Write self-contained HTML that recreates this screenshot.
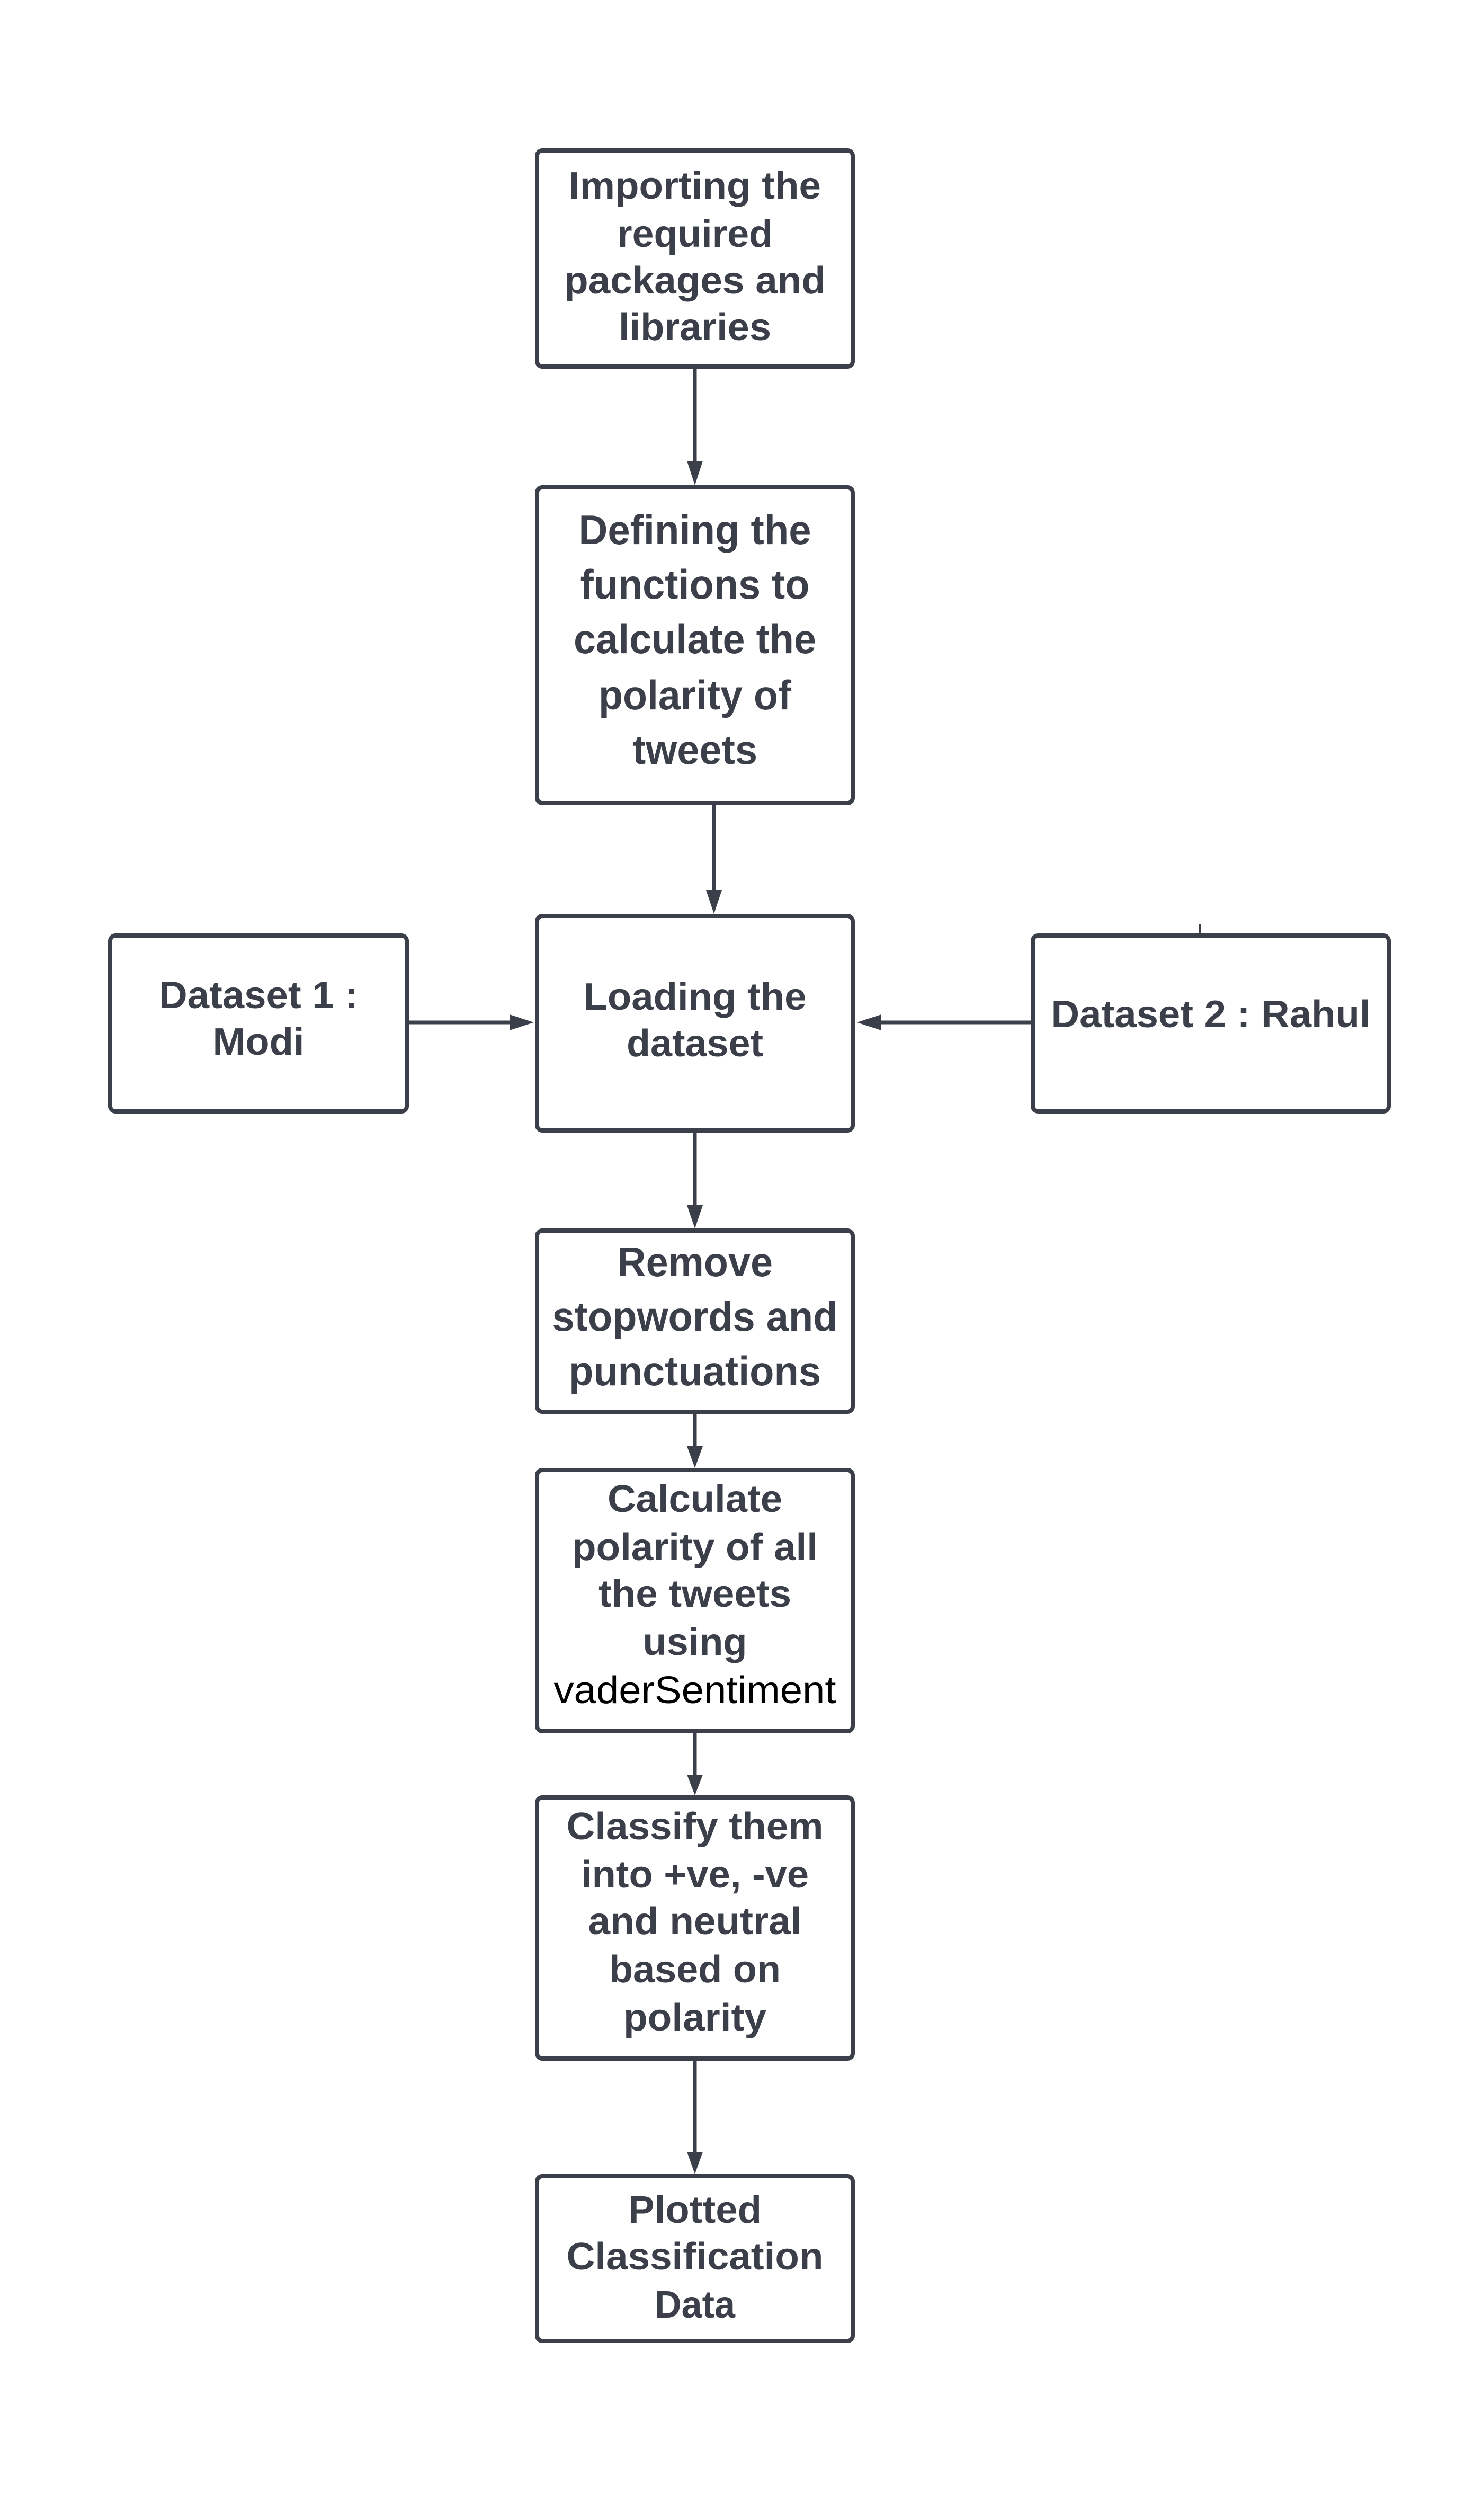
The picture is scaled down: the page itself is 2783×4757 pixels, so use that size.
<!DOCTYPE html>
<html><head><meta charset="utf-8"><style>
html,body{margin:0;padding:0;background:#fff}
svg{display:block}
text{font-family:"Liberation Sans",Arial,sans-serif;font-weight:bold;fill:#3a3f4a;text-anchor:middle;dominant-baseline:central}
</style></head><body>
<svg width="2783" height="4757" viewBox="0 0 2783 4757" xmlns="http://www.w3.org/2000/svg">
<g fill="#fff" stroke="#3a3f4a" stroke-width="8">
<rect x="1014" y="284" width="596" height="408" rx="10"/>
<rect x="1014" y="920" width="596" height="596" rx="10"/>
<rect x="1014" y="1729" width="596" height="405" rx="10"/>
<rect x="208" y="1766" width="560" height="332" rx="10"/>
<rect x="1950" y="1766" width="672" height="332" rx="10"/>
<rect x="1014" y="2323" width="596" height="342" rx="10"/>
<rect x="1014" y="2775" width="596" height="493" rx="10"/>
<rect x="1014" y="3393" width="596" height="493" rx="10"/>
<rect x="1014" y="4108" width="596" height="311" rx="10"/>
</g>
<g stroke="#3a3f4a" stroke-width="7">
<line x1="1312" y1="696" x2="1312" y2="880"/>
<line x1="1348" y1="1520" x2="1348" y2="1690"/>
<line x1="772" y1="1930" x2="970" y2="1930"/>
<line x1="1946" y1="1930" x2="1656" y2="1930"/>
<line x1="1312" y1="2138" x2="1312" y2="2285"/>
<line x1="1312" y1="2669" x2="1312" y2="2740"/>
<line x1="1312" y1="3272" x2="1312" y2="3360"/>
<line x1="1312" y1="3890" x2="1312" y2="4070"/>
<line x1="2266" y1="1745" x2="2266" y2="1768" stroke-width="4"/>
</g>
<g fill="#3a3f4a">
<polygon points="1297,870 1327,870 1312,916"/>
<polygon points="1333,1680 1363,1680 1348,1725"/>
<polygon points="962,1915 962,1945 1008,1930"/>
<polygon points="1664,1915 1664,1945 1618,1930"/>
<polygon points="1297,2275 1327,2275 1312,2319"/>
<polygon points="1297,2730 1327,2730 1312,2771"/>
<polygon points="1297,3350 1327,3350 1312,3389"/>
<polygon points="1297,4062 1327,4062 1312,4104"/>
</g>
<g font-size="72">
<text x="1312" y="351" textLength="476" lengthAdjust="spacingAndGlyphs">Importing the</text>
<text x="1312" y="442" textLength="294" lengthAdjust="spacingAndGlyphs">required</text>
<text x="1312" y="530" textLength="494" lengthAdjust="spacingAndGlyphs">packages and</text>
<text x="1312" y="618" textLength="288" lengthAdjust="spacingAndGlyphs">libraries</text>

<text x="1312" y="1000" font-size="78" textLength="439" lengthAdjust="spacingAndGlyphs">Defining the</text>
<text x="1312" y="1103" font-size="78" textLength="433" lengthAdjust="spacingAndGlyphs">functions to</text>
<text x="1312" y="1206" font-size="78" textLength="458" lengthAdjust="spacingAndGlyphs">calculate the</text>
<text x="1312" y="1312" font-size="78" textLength="364" lengthAdjust="spacingAndGlyphs">polarity of</text>
<text x="1312" y="1415" font-size="78" textLength="236" lengthAdjust="spacingAndGlyphs">tweets</text>

<text x="488" y="1879" textLength="376" lengthAdjust="spacingAndGlyphs">Dataset 1 :</text>
<text x="488" y="1967" textLength="173" lengthAdjust="spacingAndGlyphs">Modi</text>
<text x="1312" y="1882" textLength="421" lengthAdjust="spacingAndGlyphs">Loading the</text>
<text x="1312" y="1970" textLength="258" lengthAdjust="spacingAndGlyphs">dataset</text>
<text x="2286" y="1915" textLength="603" lengthAdjust="spacingAndGlyphs">Dataset 2 : Rahul</text>

<text x="1312" y="2382" font-size="78" textLength="294" lengthAdjust="spacingAndGlyphs">Remove</text>
<text x="1312" y="2485" font-size="78" textLength="539" lengthAdjust="spacingAndGlyphs">stopwords and</text>
<text x="1312" y="2588" font-size="78" textLength="476" lengthAdjust="spacingAndGlyphs">punctuations</text>

<text x="1312" y="2830" textLength="330" lengthAdjust="spacingAndGlyphs">Calculate</text>
<text x="1312" y="2921" textLength="464" lengthAdjust="spacingAndGlyphs">polarity of all</text>
<text x="1312" y="3009" textLength="364" lengthAdjust="spacingAndGlyphs">the tweets</text>
<text x="1312" y="3100" textLength="197" lengthAdjust="spacingAndGlyphs">using</text>
<text x="1312" y="3191" textLength="533" lengthAdjust="spacingAndGlyphs" style="font-weight:normal;fill:#000">vaderSentiment</text>

<text x="1312" y="3448" textLength="485" lengthAdjust="spacingAndGlyphs">Classify them</text>
<text x="1312" y="3539" textLength="430" lengthAdjust="spacingAndGlyphs">into +ve, -ve</text>
<text x="1312" y="3627" textLength="403" lengthAdjust="spacingAndGlyphs">and neutral</text>
<text x="1312" y="3718" textLength="324" lengthAdjust="spacingAndGlyphs">based on</text>
<text x="1312" y="3809" textLength="270" lengthAdjust="spacingAndGlyphs">polarity</text>

<text x="1312" y="4172" textLength="252" lengthAdjust="spacingAndGlyphs">Plotted</text>
<text x="1312" y="4260" textLength="485" lengthAdjust="spacingAndGlyphs">Classification</text>
<text x="1312" y="4351" textLength="152" lengthAdjust="spacingAndGlyphs">Data</text>
</g>
</svg>
</body></html>
